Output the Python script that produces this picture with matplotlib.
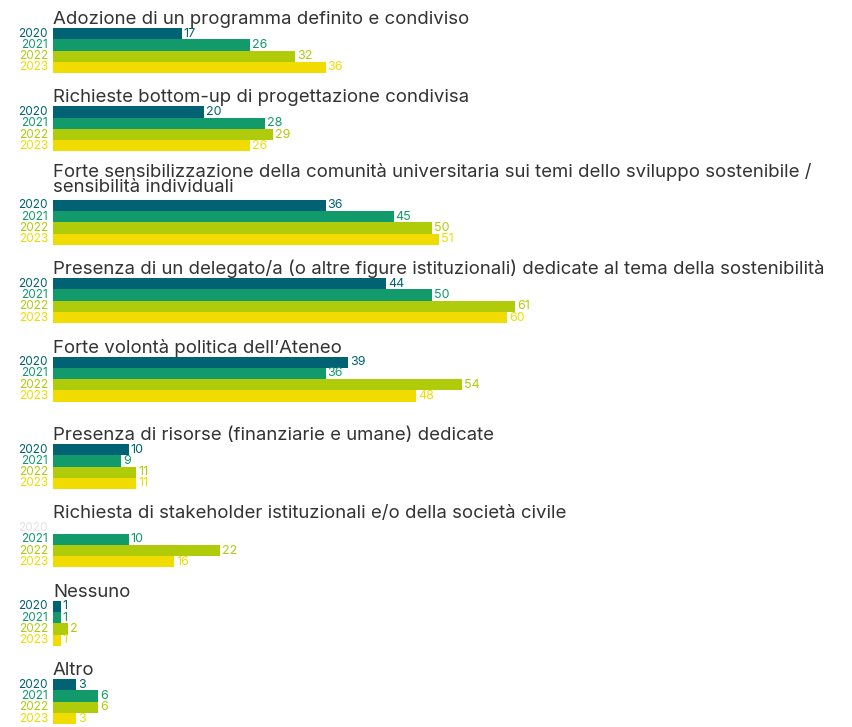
import matplotlib.pyplot as plt

# categories (titles) and values per year; None = no data
categories = [
    "Adozione di un programma definito e condiviso",
    "Richieste bottom-up di progettazione condivisa",
    "Forte sensibilizzazione della comunità universitaria sui temi dello sviluppo sostenibile /\nsensibilità individuali",
    "Presenza di un delegato/a (o altre figure istituzionali) dedicate al tema della sostenibilità",
    "Forte volontà politica dell’Ateneo",
    "Presenza di risorse (finanziarie e umane) dedicate",
    "Richiesta di stakeholder istituzionali e/o della società civile",
    "Nessuno",
    "Altro",
]
years = ["2020", "2021", "2022", "2023"]
v2020 = [17, 20, 36, 44, 39, 10, None, 1, 3]
v2021 = [26, 28, 45, 50, 36, 9, 10, 1, 6]
v2022 = [32, 29, 50, 61, 54, 11, 22, 2, 6]
v2023 = [36, 26, 51, 60, 48, 11, 16, 1, 3]

colors = ["#006272", "#129a6a", "#b0cb0a", "#f0dc00"]
missing_color = "#e2e2e2"
title_color = "#333333"

plt.rcParams['font.family'] = ['Inter', 'DejaVu Sans']

W, H = 852, 727
fig = plt.figure(figsize=(W / 100, H / 100), dpi=100)
x0 = 53          # left edge of bars in pixels
px_per_unit = 7.57
ax = fig.add_axes([x0 / W, 0, 1 - x0 / W, 1])
ax.set_xlim(0, (W - x0) / px_per_unit)
ax.set_ylim(H, 0)
ax.axis('off')

bar_h = 11.25
step = 78.4
top = 28.0
u = 1 / px_per_unit  # one pixel in data units

series = [v2020, v2021, v2022, v2023]
for g, cat in enumerate(categories):
    if g > 0:
        top += step
        if "\n" in categories[g]:
            top += 15
        if g == 5:
            top += 9
    n_lines = cat.count("\n") + 1
    ax.text(0, top - 4, cat, fontsize=13.4, color=title_color, ha='left',
            va='baseline' if n_lines == 1 else 'bottom', linespacing=0.85)
    for i, yr in enumerate(years):
        yc = top + (i + 0.5) * bar_h
        val = series[i][g]
        ax.text(-5 * u, yc, yr, fontsize=8.5, ha='right', va='center',
                color=colors[i] if val is not None else missing_color, clip_on=False)
        if val is None:
            continue
        ax.barh(yc, val, height=bar_h, color=colors[i], linewidth=0)
        ax.text(val + 2 * u, yc, str(val), fontsize=9, ha='left', va='center',
                color=colors[i])

fig.savefig("out.png", dpi=100)
